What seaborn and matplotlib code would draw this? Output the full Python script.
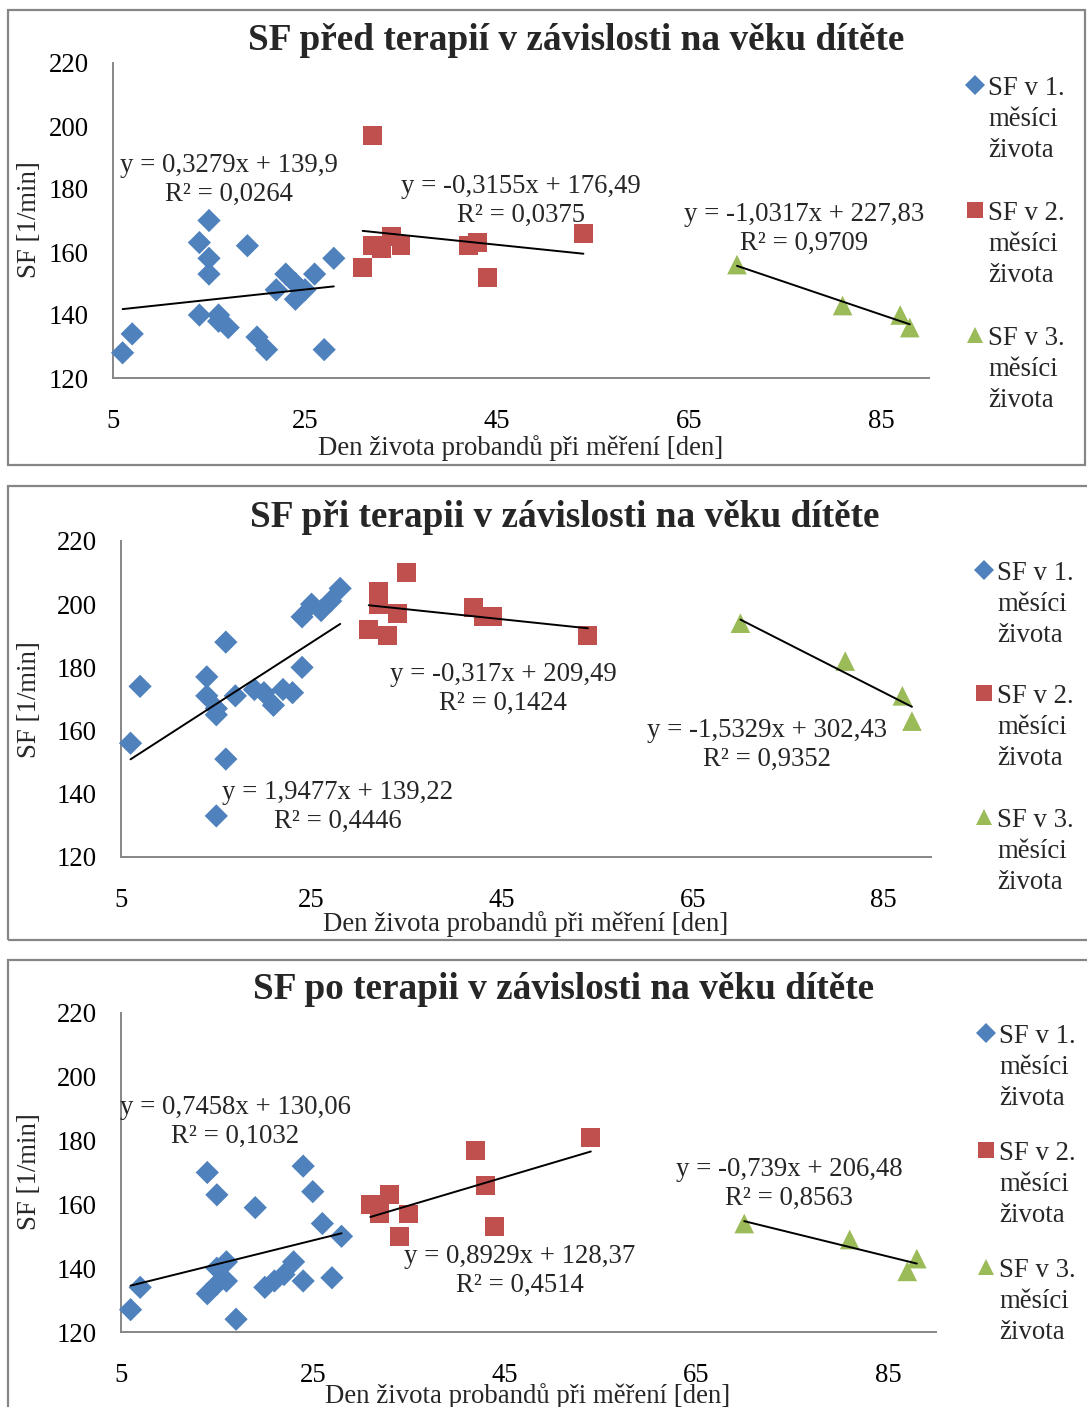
import matplotlib
matplotlib.use("Agg")
import matplotlib.pyplot as plt
import numpy as np
import seaborn as sns
from matplotlib.lines import Line2D
from matplotlib.patches import Rectangle

# ---------------- data ----------------
days_m1 = [6, 7, 14, 14, 15, 15, 15, 16, 16, 17, 19, 20, 21, 22, 23, 24, 24, 25, 26, 27, 28]
days_m2 = [31, 32, 32, 33, 34, 35, 42, 43, 44, 54]
days_m3 = [70, 81, 87, 88]

sf_pre_m1 = [128, 134, 163, 140, 170, 158, 153, 140, 138, 136, 162, 133, 129, 148, 153, 150, 145, 148, 153, 129, 158]
sf_pre_m2 = [155, 197, 162, 161, 165, 162, 162, 163, 152, 166]
sf_pre_m3 = [156, 143, 140, 136]

sf_during_m1 = [156, 174, 177, 171, 167, 165, 133, 188, 151, 171, 173, 172, 168, 173, 172, 180, 196, 200, 198, 201, 205]
sf_during_m2 = [192, 204, 200, 190, 197, 210, 199, 196, 196, 190]
sf_during_m3 = [194, 182, 171, 163]

sf_post_m1 = [127, 134, 170, 132, 163, 140, 135, 142, 136, 124, 159, 134, 136, 138, 142, 172, 136, 164, 154, 137, 150]
sf_post_m2 = [160, 157, 159, 163, 150, 157, 177, 166, 153, 181]
sf_post_m3 = [154, 149, 139, 143]

trend_pre_slope = [0.3279, -0.3155, -1.0317]
trend_pre_icpt = [139.9, 176.49, 227.83]
trend_pre_r2 = [0.0264, 0.0375, 0.9709]

trend_during_slope = [1.9477, -0.317, -1.5329]
trend_during_icpt = [139.22, 209.49, 302.43]
trend_during_r2 = [0.4446, 0.1424, 0.9352]

trend_post_slope = [0.7458, 0.8929, -0.739]
trend_post_icpt = [130.06, 128.37, 206.48]
trend_post_r2 = [0.1032, 0.4514, 0.8563]

titles = ["SF před terapií v závislosti na věku dítěte",
          "SF při terapii v závislosti na věku dítěte",
          "SF po terapii v závislosti na věku dítěte"]
series_labels = ["SF v 1.\nměsíci\nživota", "SF v 2.\nměsíci\nživota", "SF v 3.\nměsíci\nživota"]
x_label = "Den života probandů při měření [den]"
y_label = "SF [1/min]"
x_ticks = [5, 25, 45, 65, 85]
y_ticks = [120, 140, 160, 180, 200, 220]

# ---------------- style ----------------
W, H = 1087, 1407
sns.set_style("white")
plt.rcParams['font.family'] = ['Liberation Serif', 'DejaVu Serif']

colors = ["#4F81BD", "#C0504D", "#9BBB59"]
markers = ["D", "s", "^"]
sizes = [140, 185, 200]
leg_ms = [10, 11, 12]
FS = 19.3
TFS = 26.8
em = FS * 100 / 72.0
AXC = "#868686"

fig = plt.figure(figsize=(W / 100, H / 100), dpi=100)
fig.patch.set_facecolor("white")


def fx(px):
    return px / W


def fy(py):
    return 1 - py / H


panels = [
    dict(ax=(113, 929, 63, 378), title=(576, 50), xl=(521, 455), yl=(30, 220),
         ann=[(229, 177), (521, 198), (804, 226)], leg=(975, 988, [85, 210, 335]),
         border=(8, 10, 1085, 465),
         data=[sf_pre_m1, sf_pre_m2, sf_pre_m3],
         trend=(trend_pre_slope, trend_pre_icpt, trend_pre_r2)),
    dict(ax=(121, 931, 541, 857), title=(565, 527), xl=(526, 931), yl=(30, 700),
         ann=[(338, 804), (503, 686), (767, 742)], leg=(984, 997, [570, 693, 817]),
         border=(8, 486, 1100, 940),
         data=[sf_during_m1, sf_during_m2, sf_during_m3],
         trend=(trend_during_slope, trend_during_icpt, trend_during_r2)),
    dict(ax=(121, 936, 1013, 1332), title=(564, 999), xl=(528, 1403), yl=(30, 1172),
         ann=[(235, 1119), (520, 1268), (789, 1181)], leg=(986, 999, [1033, 1150, 1267]),
         border=(8, 960, 1100, 1420),
         data=[sf_post_m1, sf_post_m2, sf_post_m3],
         trend=(trend_post_slope, trend_post_icpt, trend_post_r2)),
]
days = [days_m1, days_m2, days_m3]


def fmt(v):
    return f"{v:g}".replace(".", ",")


for i, p in enumerate(panels):
    # border of the chart area
    bx0, by0, bx1, by1 = p["border"]
    fig.patches.append(Rectangle((fx(bx0), fy(by1)), fx(bx1 - bx0), (by1 - by0) / H,
                                 transform=fig.transFigure, fill=False,
                                 edgecolor=AXC, linewidth=1.6, zorder=0))
    l, r, t, b = p["ax"]
    ax = fig.add_axes([fx(l), fy(b), fx(r - l), (b - t) / H])
    ax.set_facecolor("none")

    for k in range(3):
        sns.scatterplot(x=days[k], y=p["data"][k], marker=markers[k], color=colors[k],
                        s=sizes[k], edgecolor="none", linewidth=0, ax=ax,
                        legend=False, zorder=3, clip_on=False)
    slopes, icpts, r2s = p["trend"]
    for k in range(3):
        xs = np.array([min(days[k]), max(days[k])], dtype=float)
        ax.plot(xs, slopes[k] * xs + icpts[k], color="black", lw=1.4, zorder=4)

    ax.set_xlim(5, 90)
    ax.set_ylim(120, 220)
    ax.set_xticks(x_ticks)
    ax.set_yticks(y_ticks)
    ax.set_xlabel("")
    ax.set_ylabel("")
    for s in ["top", "right"]:
        ax.spines[s].set_visible(False)
    for s in ["left", "bottom"]:
        ax.spines[s].set_color(AXC)
        ax.spines[s].set_linewidth(1.4)
    ax.tick_params(axis="both", which="major", direction="out", length=4.5, width=1.2,
                   color=AXC, labelsize=FS, labelcolor="black")
    ax.tick_params(axis="x", pad=18)
    ax.tick_params(axis="y", pad=13)
    ax.grid(False)

    # title and axis labels
    fig.text(fx(p["title"][0]), fy(p["title"][1]), titles[i], ha="center", va="baseline",
             fontsize=TFS, fontweight="bold")
    fig.text(fx(p["xl"][0]), fy(p["xl"][1]), x_label, ha="center", va="baseline", fontsize=FS)
    fig.text(fx(p["yl"][0]), fy(p["yl"][1]), y_label, ha="center", va="center",
             rotation=90, fontsize=FS)

    # trendline equations
    for k in range(3):
        cx, cy = p["ann"][k]
        txt = f"y = {fmt(slopes[k])}x + {fmt(icpts[k])}\nR² = {fmt(r2s[k])}"
        top = cy - 15 - 0.353 * em
        fig.text(fx(cx), fy(top), txt, ha="center", va="top", fontsize=FS,
                 linespacing=1.25, multialignment="center")

    # legend
    mx, tx, ys = p["leg"]
    for k in range(3):
        fig.add_artist(Line2D([fx(mx)], [fy(ys[k])], transform=fig.transFigure,
                              marker=markers[k], color=colors[k], markersize=leg_ms[k],
                              markeredgewidth=0, linestyle="none"))
        fig.text(fx(tx), fy(ys[k] - 0.353 * em), series_labels[k], ha="left", va="top",
                 fontsize=FS, linespacing=1.32)

fig.savefig("out.png", dpi=100, facecolor="white")
